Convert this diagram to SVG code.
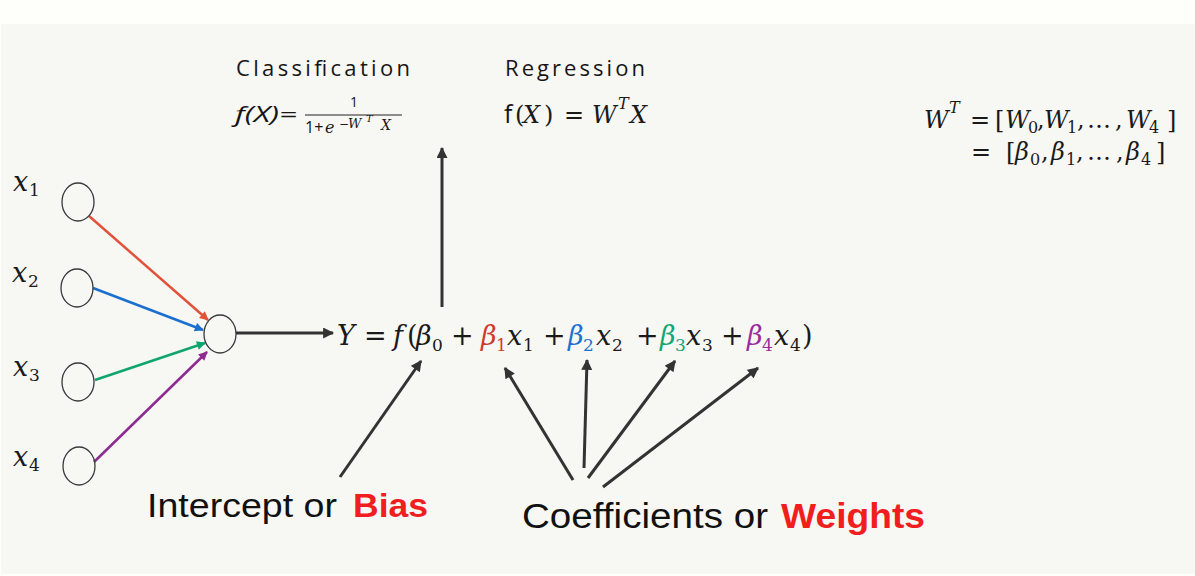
<svg xmlns="http://www.w3.org/2000/svg" width="1195" height="576" viewBox="0 0 1195 576">
<defs>
<style>
.node{fill:none;stroke:#3a3a3a;stroke-width:1.3}
.k{stroke:#333;stroke-width:3;fill:none}
.c{stroke-width:2.5;fill:none}
.m{font-family:"DejaVu Serif","Liberation Serif",serif;font-style:italic;fill:#1a1a1a}
.u{font-family:"DejaVu Serif","Liberation Serif",serif;font-style:normal;fill:#1a1a1a}
.s{font-family:"Open Sans","Liberation Sans",sans-serif;fill:#161616}
.b{font-family:"Liberation Sans","Open Sans",sans-serif;fill:#111}
.red{fill:#cf3b2b}
.blu{fill:#1b72d2}
.grn{fill:#0fa86e}
.pur{fill:#9b2c9e}
.hot{fill:#f01e1e;font-weight:bold}
</style>
<marker id="ak" viewBox="0 0 10 10" refX="9" refY="5" markerUnits="userSpaceOnUse" markerWidth="12" markerHeight="11" orient="auto"><path d="M0,0 L10,5 L0,10 z" fill="#333"/></marker>
<marker id="ar" viewBox="0 0 10 10" refX="9" refY="5" markerUnits="userSpaceOnUse" markerWidth="10" markerHeight="9" orient="auto"><path d="M0,0 L10,5 L0,10 z" fill="#e0533a"/></marker>
<marker id="ab" viewBox="0 0 10 10" refX="9" refY="5" markerUnits="userSpaceOnUse" markerWidth="10" markerHeight="9" orient="auto"><path d="M0,0 L10,5 L0,10 z" fill="#1b6fce"/></marker>
<marker id="ag" viewBox="0 0 10 10" refX="9" refY="5" markerUnits="userSpaceOnUse" markerWidth="10" markerHeight="9" orient="auto"><path d="M0,0 L10,5 L0,10 z" fill="#0fa56f"/></marker>
<marker id="ap" viewBox="0 0 10 10" refX="9" refY="5" markerUnits="userSpaceOnUse" markerWidth="10" markerHeight="9" orient="auto"><path d="M0,0 L10,5 L0,10 z" fill="#8c2b90"/></marker>
</defs>
<rect x="0" y="0" width="1195" height="576" fill="#fefefb"/>
<rect x="1" y="24" width="1194" height="550" fill="#f7f7f4"/>

<g id="connectors">
<line class="c" stroke="#e0533a" x1="89" y1="216" x2="208" y2="320" marker-end="url(#ar)"/>
<line class="c" stroke="#1b6fce" x1="93" y1="288" x2="203" y2="330" marker-end="url(#ab)"/>
<line class="c" stroke="#0fa56f" x1="95" y1="380" x2="205" y2="343" marker-end="url(#ag)"/>
<line class="c" stroke="#8c2b90" x1="94" y1="462" x2="207" y2="352" marker-end="url(#ap)"/>
<line class="k" x1="236" y1="333" x2="333" y2="333" marker-end="url(#ak)"/>
<line class="k" x1="442" y1="307" x2="442" y2="148" marker-end="url(#ak)"/>
<line class="k" x1="340" y1="477" x2="421" y2="361" marker-end="url(#ak)"/>
<line class="k" x1="573" y1="480" x2="505" y2="368" marker-end="url(#ak)"/>
<line class="k" x1="584" y1="468" x2="587" y2="360" marker-end="url(#ak)"/>
<line class="k" x1="588" y1="478" x2="675" y2="361" marker-end="url(#ak)"/>
<line class="k" x1="603" y1="487" x2="758" y2="368" marker-end="url(#ak)"/>
</g>

<g id="input-x1"><ellipse class="node" cx="78" cy="202" rx="16" ry="19"/>
<text class="m" x="13" y="191" font-size="27">x</text><text class="u" x="29" y="196" font-size="17">1</text></g>
<g id="input-x2"><ellipse class="node" cx="77" cy="288" rx="16" ry="19"/>
<text class="m" x="12" y="282" font-size="27">x</text><text class="u" x="28" y="287" font-size="17">2</text></g>
<g id="input-x3"><ellipse class="node" cx="78" cy="382" rx="16" ry="19"/>
<text class="m" x="13" y="376" font-size="27">x</text><text class="u" x="29" y="381" font-size="17">3</text></g>
<g id="input-x4"><ellipse class="node" cx="79" cy="466" rx="16" ry="19"/>
<text class="m" x="13" y="466" font-size="27">x</text><text class="u" x="29" y="471" font-size="17">4</text></g>
<g id="neuron"><ellipse class="node" cx="220" cy="334" rx="16" ry="19"/></g>

<g id="equation" font-size="27">
<text class="m" x="337" y="345">Y</text>
<text class="u" x="364" y="345">=</text>
<text class="m" x="393" y="345">f</text>
<text class="u" x="407" y="345">(</text>
<text class="m" x="416" y="345">β</text><text class="u" x="432" y="351" font-size="17">0</text>
<text class="u" x="451" y="345">+</text>
<text class="m red" x="481" y="345">β</text><text class="u red" x="496" y="351" font-size="17">1</text>
<text class="m" x="507" y="345">x</text><text class="u" x="523" y="351" font-size="17">1</text>
<text class="u" x="543" y="345">+</text>
<text class="m blu" x="568" y="345">β</text><text class="u blu" x="583" y="351" font-size="17">2</text>
<text class="m" x="596" y="345">x</text><text class="u" x="612" y="351" font-size="17">2</text>
<text class="u" x="636" y="345">+</text>
<text class="m grn" x="660" y="345">β</text><text class="u grn" x="675" y="351" font-size="17">3</text>
<text class="m" x="686" y="345">x</text><text class="u" x="702" y="351" font-size="17">3</text>
<text class="u" x="721" y="345">+</text>
<text class="m pur" x="747" y="345">β</text><text class="u pur" x="762" y="351" font-size="17">4</text>
<text class="m" x="774" y="345">x</text><text class="u" x="790" y="351" font-size="17">4</text>
<text class="u" x="802" y="345">)</text>
</g>

<g id="classification">
<text class="s" x="236" y="76" font-size="22" textLength="174" lengthAdjust="spacing">Classification</text>
<text class="s" x="235" y="122" font-size="22" font-style="italic" textLength="62" lengthAdjust="spacingAndGlyphs">f(X)=</text>
<text class="s" x="354" y="107" font-size="14" text-anchor="middle">1</text>
<line x1="305" y1="115" x2="402" y2="115" stroke="#222" stroke-width="1.2"/>
<text class="s" x="305" y="133" font-size="16">1+</text>
<text class="m" x="325" y="133" font-size="16">e</text>
<text class="u" x="339" y="128" font-size="12">−</text>
<text class="m" x="348" y="128" font-size="13">W</text>
<text class="m" x="366" y="122" font-size="10">T</text>
<text class="m" x="381" y="130" font-size="14">X</text>
</g>

<g id="regression">
<text class="s" x="505" y="76" font-size="22" textLength="140" lengthAdjust="spacing">Regression</text>
<text class="s" x="504" y="123" font-size="25">f</text>
<text class="u" x="515" y="123" font-size="24">(</text>
<text class="m" x="523" y="123" font-size="24">X</text>
<text class="u" x="544" y="123" font-size="24">)</text>
<text class="u" x="564" y="123" font-size="24">=</text>
<text class="m" x="592" y="123" font-size="24">W</text>
<text class="m" x="618" y="109" font-size="16">T</text>
<text class="m" x="630" y="123" font-size="24">X</text>
</g>

<g id="weights-def" font-size="24">
<text class="m" x="924" y="128">W</text>
<text class="m" x="949" y="113" font-size="16">T</text>
<text class="u" x="970" y="128">=</text>
<text class="u" x="995" y="128">[</text>
<text class="m" x="1005" y="128">W</text><text class="u" x="1028" y="133" font-size="16">0</text>
<text class="u" x="1037" y="128">,</text>
<text class="m" x="1044" y="128">W</text><text class="u" x="1067" y="133" font-size="16">1</text>
<text class="u" x="1077" y="128">,</text>
<text class="u" x="1087" y="128">…</text>
<text class="u" x="1115" y="128">,</text>
<text class="m" x="1126" y="128">W</text><text class="u" x="1149" y="133" font-size="16">4</text>
<text class="u" x="1167" y="128">]</text>
<text class="u" x="971" y="160">=</text>
<text class="u" x="1006" y="160">[</text>
<text class="m" x="1015" y="160">β</text><text class="u" x="1030" y="165" font-size="16">0</text>
<text class="u" x="1041" y="160">,</text>
<text class="m" x="1051" y="160">β</text><text class="u" x="1066" y="165" font-size="16">1</text>
<text class="u" x="1076" y="160">,</text>
<text class="u" x="1087" y="160">…</text>
<text class="u" x="1116" y="160">,</text>
<text class="m" x="1126" y="160">β</text><text class="u" x="1141" y="165" font-size="16">4</text>
<text class="u" x="1156" y="160">]</text>
</g>

<g id="label-bias">
<text class="b" x="147" y="517" font-size="33" textLength="190" lengthAdjust="spacingAndGlyphs">Intercept or</text>
<text class="b hot" x="353" y="517" font-size="33" textLength="75" lengthAdjust="spacingAndGlyphs">Bias</text>
</g>
<g id="label-weights">
<text class="b" x="522" y="528" font-size="35" textLength="246" lengthAdjust="spacingAndGlyphs">Coefficients or</text>
<text class="b hot" x="781" y="528" font-size="35" textLength="144" lengthAdjust="spacingAndGlyphs">Weights</text>
</g>
</svg>
